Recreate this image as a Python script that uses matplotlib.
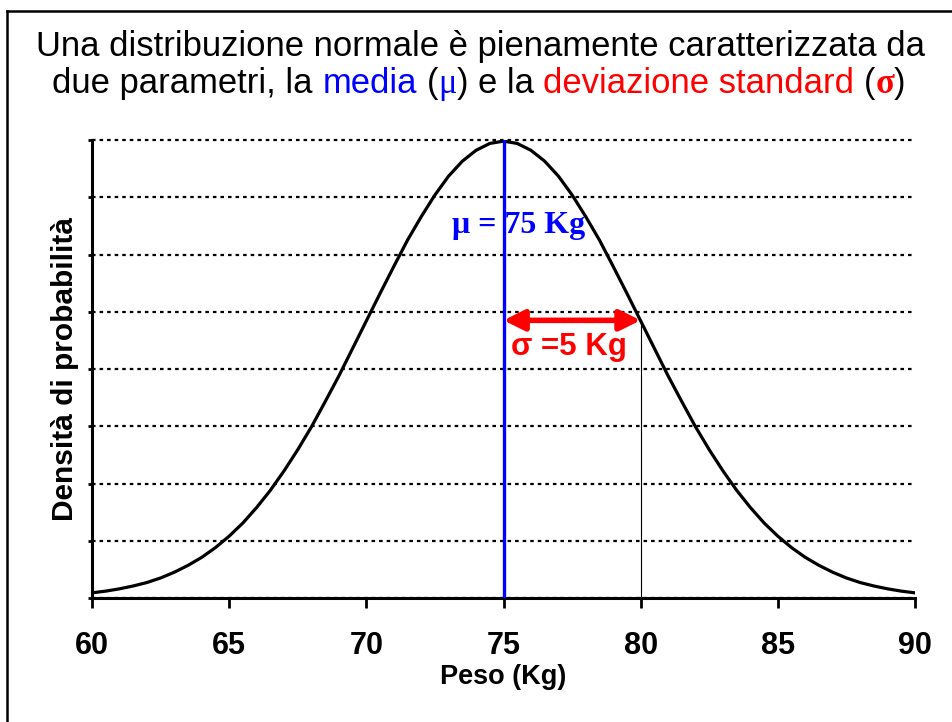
import numpy as np
import matplotlib.pyplot as plt
from matplotlib.lines import Line2D

plt.rcParams['font.family'] = 'Liberation Sans'

# curve, every 0.5 Kg from 60 to 90
peso = np.arange(60, 90.5, 0.5)
densita = [0.0009, 0.0012, 0.0016, 0.0021, 0.0027, 0.0035, 0.0045, 0.0057,
           0.0071, 0.0088, 0.0108, 0.0131, 0.0158, 0.0188, 0.0222, 0.0259,
           0.0299, 0.0343, 0.0388, 0.0436, 0.0484, 0.0532, 0.0579, 0.0625,
           0.0666, 0.0704, 0.0737, 0.0763, 0.0782, 0.0794, 0.0798,
           0.0794, 0.0782, 0.0763, 0.0737, 0.0704, 0.0666, 0.0625, 0.0579,
           0.0532, 0.0484, 0.0436, 0.0388, 0.0343, 0.0299, 0.0259, 0.0222,
           0.0188, 0.0158, 0.0131, 0.0108, 0.0088, 0.0071, 0.0057, 0.0045,
           0.0035, 0.0027, 0.0021, 0.0016, 0.0012, 0.0009]

media = 75
picco = 0.0798
sigma_x = 80
sigma_y = 0.0485
xticks = [60, 65, 70, 75, 80, 85, 90]
yticks = [0, 0.01, 0.02, 0.03, 0.04, 0.05, 0.06, 0.07, 0.08]

W, H = 953, 722
fig = plt.figure(figsize=(W / 100, H / 100), dpi=100)
ax = fig.add_axes([92 / W, 1 - 598 / H, 823 / W, 458 / H])

ax.plot(peso, densita, color='black', lw=2.3, zorder=3)
ax.plot([media, media], [0, picco], color='#0000ff', lw=2.4, zorder=4)
ax.plot([sigma_x, sigma_x], [0, sigma_y], color='black', lw=0.8, zorder=2)

ax.annotate('', xy=(media, sigma_y), xytext=(sigma_x, sigma_y),
            arrowprops=dict(arrowstyle='<|-|>,head_length=1.25,head_width=0.62',
                            color='#ff0000', lw=4, shrinkA=0, shrinkB=0),
            zorder=5)

ax.text(75.55, 0.0638, '\u03bc = 75 Kg', color='#0000ff', fontsize=23,
        family='Liberation Serif', weight='bold', ha='center', va='baseline')
ax.text(77.4, 0.0424, '\u03c3 =5 Kg', color='#ff0000', fontsize=22.5,
        weight='bold', ha='center', va='baseline')

ax.set_xlim(60, 90)
ax.set_ylim(0, 0.08)
ax.set_xticks(xticks)
ax.set_yticks(yticks)
ax.set_yticklabels([])
ax.tick_params(axis='x', length=7, width=2, pad=17, labelsize=22)
ax.tick_params(axis='y', length=3, width=2)
for lab in ax.get_xticklabels():
    lab.set_fontweight('bold')
ax.set_axisbelow(True)
ax.yaxis.grid(True, color='black', lw=1.6, linestyle=(0, (1.6, 1.8)))
for gl in ax.get_ygridlines():
    gl.set_clip_on(False)

for s in ['top', 'right']:
    ax.spines[s].set_visible(False)
for s in ['left', 'bottom']:
    ax.spines[s].set_linewidth(2.2)

ax.set_xlabel('Peso (Kg)', fontsize=19.5, weight='bold', labelpad=2)
ax.set_ylabel('Densità di probabilità', fontsize=21.5, weight='bold', labelpad=3)

# border (only left and top edges show)
bx, by = 7 / W, 1 - 11 / H
fig.add_artist(Line2D([bx, bx], [0, by], transform=fig.transFigure, color='black', lw=1.8))
fig.add_artist(Line2D([bx, 1], [by, by], transform=fig.transFigure, color='black', lw=1.8))

# title, second line has coloured pieces
size = 24.9
fig.text(481 / W, 1 - 56 / H, 'Una distribuzione normale è pienamente caratterizzata da',
         fontsize=size, ha='center', va='baseline')

renderer = fig.canvas.get_renderer()
t1 = fig.text(0, 0, 'x x', fontsize=size)
t2 = fig.text(0, 0, 'xx', fontsize=size)
space = t1.get_window_extent(renderer).width - t2.get_window_extent(renderer).width
t1.remove()
t2.remove()

serif = 'Liberation Serif'
pieces = [
    ('due parametri, la', 'black', {}, 0),
    ('media', '#0000ff', {}, 1),
    ('(', 'black', {}, 1),
    ('\u03bc', '#0000ff', {'family': serif}, 0),
    (')', 'black', {}, 0),
    ('e la', 'black', {}, 1),
    ('deviazione standard', '#ff0000', {}, 1),
    ('(', 'black', {}, 1),
    ('\u03c3', '#ff0000', {'family': serif, 'weight': 'bold'}, 0),
    (')', 'black', {}, 0),
]
texts = []
total = 0
for s, c, kw, gap in pieces:
    t = fig.text(0, 1 - 93 / H, s, color=c, fontsize=size, va='baseline', **kw)
    w = t.get_window_extent(renderer).width
    total += w + gap * space
    texts.append((t, w, gap))
x = 479 - total / 2
for t, w, gap in texts:
    x += gap * space
    t.set_x(x / W)
    x += w

fig.savefig('out.png', dpi=100)
